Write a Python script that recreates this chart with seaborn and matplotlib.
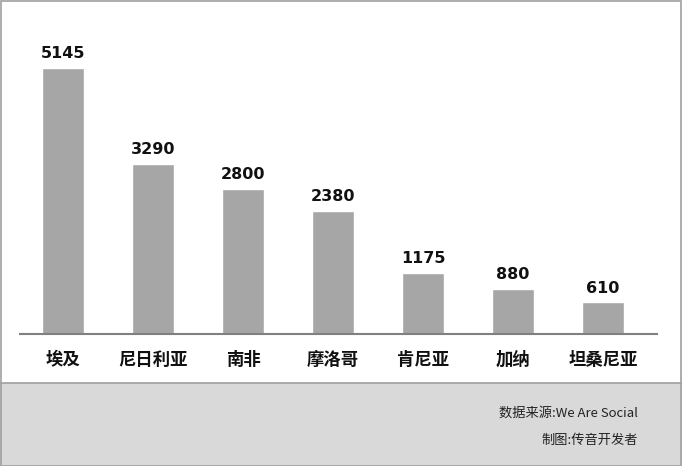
import numpy as np
import pandas as pd
import seaborn as sns
import matplotlib.pyplot as plt
from matplotlib.patches import Rectangle

# data
countries = ['埃及', '尼日利亚', '南非', '摩洛哥', '肯尼亚', '加纳', '坦桑尼亚']
values = [5145, 3290, 2800, 2380, 1175, 880, 610]
source_text = '数据来源:We Are Social'
author_text = '制图:传音开发者'

df = pd.DataFrame({'country': countries, 'value': values})

sns.set_theme(style='white')
plt.rcParams['font.family'] = ['Noto Sans CJK SC', 'DejaVu Sans']

W, H = 682, 466
fig = plt.figure(figsize=(W / 100, H / 100), dpi=100)
fig.patch.set_facecolor('white')

# gray footer band
fig.patches.append(Rectangle((0, 0), 1, 83 / H, transform=fig.transFigure,
                             facecolor='#d9d9d9', edgecolor='none', zorder=0))
fig.lines.append(plt.Line2D([0, 1], [83 / H, 83 / H], transform=fig.transFigure,
                            color='#a0a0a0', lw=1.2))
# outer border
fig.patches.append(Rectangle((0.5 / W, 0.5 / H), 1 - 1.5 / W, 1 - 1.5 / H,
                             transform=fig.transFigure, facecolor='none',
                             edgecolor='#a0a0a0', lw=1.2, zorder=5))

# main axes: baseline at y=334 px, top at 20 px, x from 20 to 657 px
ax = fig.add_axes([20 / W, (H - 334) / H, 637 / W, 314 / H])
ax.set_facecolor('none')
sns.barplot(data=df, x='country', y='value', color='#a6a6a6', width=0.46,
            saturation=1, ax=ax)

ax.set_xlim(-0.478, 6.6)
ax.set_ylim(0, 314 / (266 / 5145))
for s in ['top', 'right', 'left']:
    ax.spines[s].set_visible(False)
ax.spines['bottom'].set_color('#808080')
ax.spines['bottom'].set_linewidth(1.5)
ax.set_yticks([])
ax.set_xlabel('')
ax.set_ylabel('')
ax.tick_params(axis='x', length=0, pad=12)
for lbl in ax.get_xticklabels():
    lbl.set_fontsize(12.5)
    lbl.set_fontweight('bold')
    lbl.set_color('#111111')

for i, v in enumerate(values):
    ax.annotate(str(v), (i, v), xytext=(0, 5), textcoords='offset points',
                ha='center', va='bottom', fontsize=11.5, fontweight='bold',
                family=['DejaVu Sans'], color='#111111')

fig.text(638 / W, 1 - 413 / H, source_text, ha='right', va='center',
         fontsize=9.5, color='#222222')
fig.text(638 / W, 1 - 440 / H, author_text, ha='right', va='center',
         fontsize=9.5, color='#222222')

fig.savefig('out.png', dpi=100)
